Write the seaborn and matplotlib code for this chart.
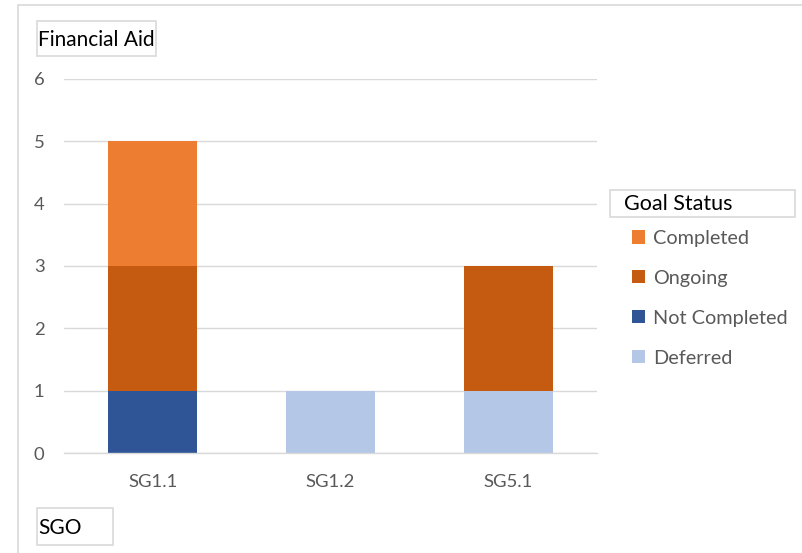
import matplotlib
matplotlib.use("Agg")
import matplotlib.pyplot as plt
from matplotlib.patches import Rectangle, Patch
import seaborn as sns
import numpy as np

categories = ["SG1.1", "SG1.2", "SG5.1"]
statuses = ["Completed", "Ongoing", "Not Completed", "Deferred"]
deferred = [0, 1, 1]
not_completed = [1, 0, 0]
ongoing = [2, 0, 2]
completed = [2, 0, 0]
colors = {"Completed": "#ED7D31", "Ongoing": "#C55A11",
          "Not Completed": "#2F5597", "Deferred": "#B4C7E7"}
y_ticks = [0, 1, 2, 3, 4, 5, 6]

sns.set_theme(style="white")
plt.rcParams["font.family"] = ["Lato", "DejaVu Sans"]

W, H = 803, 553
fig = plt.figure(figsize=(W / 100, H / 100), dpi=100)

def fx(px):
    return px / W

def fy(py):
    return 1 - py / H

# outer frame (left and top edges visible)
fig.add_artist(Rectangle((fx(18), fy(700)), 1.0, fy(5) - fy(700),
                         transform=fig.transFigure, fill=False, edgecolor="#d9d9d9", lw=1.2))

ax = fig.add_axes([fx(64), fy(453), fx(597) - fx(64), fy(79) - fy(453)])

series = [("Deferred", deferred), ("Not Completed", not_completed),
          ("Ongoing", ongoing), ("Completed", completed)]
bottom = np.zeros(len(categories))
for name, vals in series:
    sns.barplot(x=categories, y=vals, bottom=bottom.copy(), color=colors[name],
                width=0.5, linewidth=0, saturation=1, ax=ax, order=categories)
    bottom = bottom + np.array(vals)

ax.set_xlim(-0.5, 2.5)
ax.set_ylim(0, 6)
ax.set_yticks(y_ticks)
ax.set_yticklabels([str(t) for t in y_ticks])
ax.grid(axis="y", color="#d9d9d9", lw=1)
ax.set_axisbelow(True)
for s in ["top", "right", "left"]:
    ax.spines[s].set_visible(False)
ax.spines["bottom"].set_color("#d9d9d9")
ax.spines["bottom"].set_linewidth(1)
ax.tick_params(axis="both", length=0, labelsize=13.3, labelcolor="#595959")
ax.tick_params(axis="y", pad=14)
ax.tick_params(axis="x", pad=15)
ax.set_xlabel("")
ax.set_ylabel("")

# text boxes
def box(x0, y0, x1, y1, text, size, tx=None):
    fig.add_artist(Rectangle((fx(x0), fy(y1)), fx(x1) - fx(x0), fy(y0) - fy(y1),
                             transform=fig.transFigure, fill=False,
                             edgecolor="#d9d9d9", lw=1.2))
    fig.text(fx(tx if tx is not None else x0 + 1), fy((y0 + y1) / 2 + 1), text,
             fontsize=size, color="black", ha="left", va="center")

box(37, 21, 156, 56, "Financial Aid", 15)
box(37, 508, 113, 545, "SGO", 15)
box(610, 190, 795, 217, "Goal Status", 15.5, tx=624)

handles = [Patch(facecolor=colors[s], edgecolor="none") for s in statuses]
fig.legend(handles, statuses, loc="upper left", bbox_to_anchor=(fx(632), fy(230)),
           frameon=False, fontsize=14.3, labelcolor="#595959",
           handlelength=0.65, handleheight=0.65, handletextpad=0.4,
           labelspacing=1.15, borderaxespad=0, borderpad=0)

fig.savefig("out.png", dpi=100)
